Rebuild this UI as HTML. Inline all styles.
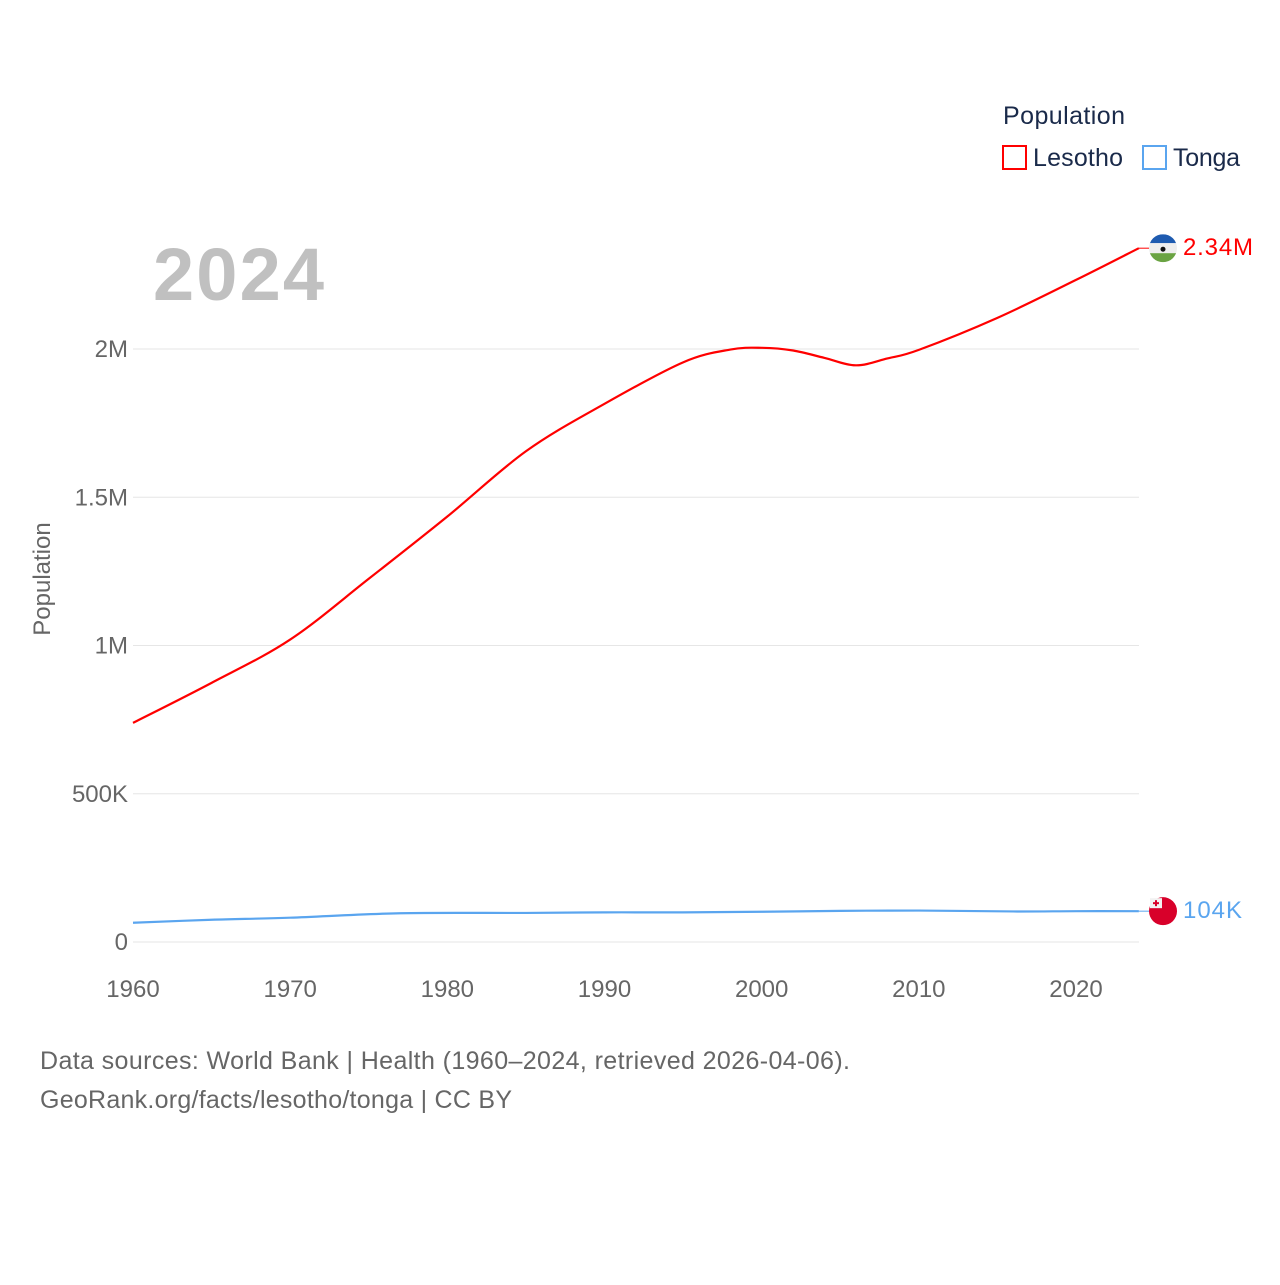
<!DOCTYPE html>
<html><head><meta charset="utf-8"><style>
body{margin:0;background:#fff;font-family:"Liberation Sans",sans-serif}
svg text{font-family:"Liberation Sans",sans-serif}
</style></head><body>
<svg id="chart" width="1280" height="1280" viewBox="0 0 1280 1280" xmlns="http://www.w3.org/2000/svg">
<text x="1003" y="124" font-size="25" fill="#1a2a4a" textLength="122">Population</text>
<g><rect x="1003" y="146" width="23" height="23" fill="none" stroke="#ff0000" stroke-width="2"/><text x="1033" y="166" font-size="25" fill="#1a2a4a" textLength="90">Lesotho</text></g>
<g><rect x="1143" y="146" width="23" height="23" fill="none" stroke="#5aa5ef" stroke-width="2"/><text x="1173" y="166" font-size="25" fill="#1a2a4a" textLength="67">Tonga</text></g>
<text x="153" y="300" font-size="74" font-weight="bold" fill="#c0c0c0" textLength="171">2024</text>
<text transform="translate(50,579) rotate(-90)" text-anchor="middle" font-size="24" fill="#666">Population</text>
<g id="grid"></g><g id="series"></g>
<text x="40" y="1069" font-size="25" fill="#666" textLength="810">Data sources: World Bank | Health (1960–2024, retrieved 2026-04-06).</text>
<text x="40" y="1108" font-size="25" fill="#666" textLength="472">GeoRank.org/facts/lesotho/tonga | CC BY</text>
</svg>
<script>
const years=[1960,1965,1970,1975,1980,1985,1990,1995,1998,2000,2002,2004,2006,2008,2010,2015,2020,2024];
const lesotho=[0.739,0.874,1.02,1.225,1.435,1.655,1.815,1.955,1.998,2.004,1.995,1.97,1.945,1.968,1.997,2.105,2.233,2.34];
const tongaYears=[1960,1965,1970,1977,1985,1990,1995,2000,2005,2010,2016,2020,2024];
const tonga=[0.065,0.075,0.082,0.097,0.098,0.1,0.1,0.102,0.105,0.106,0.103,0.104,0.104];
const yTicks=[0,0.5,1,1.5,2];const yTickLabels=["0","500K","1M","1.5M","2M"];
const xTicks=[1960,1970,1980,1990,2000,2010,2020];
const NS="http://www.w3.org/2000/svg";
const xs=y=>133+(y-1960)*(1076-133)/60;
const ys=v=>942-v*296.5;
function mk(t,a,p){const e=document.createElementNS(NS,t);for(const k in a)e.setAttribute(k,a[k]);p.appendChild(e);return e;}
const grid=document.getElementById('grid'),ser=document.getElementById('series');
yTicks.forEach((v,i)=>{const l=mk('line',{x1:133,x2:1139,y1:ys(v),y2:ys(v),stroke:'#e6e6e6','stroke-width':1},grid);


const t=mk('text',{x:128,y:ys(v)+8,'text-anchor':'end','font-size':24,fill:'#666'},grid);t.textContent=yTickLabels[i];

});
xTicks.forEach(y=>{const t=mk('text',{x:xs(y),y:997,'text-anchor':'middle','font-size':24,fill:'#666'},grid);t.textContent=y;

});
function path(xv,yv){const p=xv.map((x,i)=>[xs(x),ys(yv[i])]);let d='M'+p[0];
for(let i=0;i<p.length-1;i++){const p0=p[i-1]||p[i],p1=p[i],p2=p[i+1],p3=p[i+2]||p2;const k=1/6;
d+=' C'+(p1[0]+(p2[0]-p0[0])*k)+','+(p1[1]+(p2[1]-p0[1])*k)+' '+(p2[0]-(p3[0]-p1[0])*k)+','+(p2[1]-(p3[1]-p1[1])*k)+' '+p2;}return d;}
const lp=mk('path',{d:path(years,lesotho),fill:'none',stroke:'#ff0000','stroke-width':2.2},ser);


const tp=mk('path',{d:path(tongaYears,tonga),fill:'none',stroke:'#5aa5ef','stroke-width':2.2},ser);


const lx=xs(2024),ly=ys(lesotho[lesotho.length-1]),ty=ys(tonga[tonga.length-1]);
mk('line',{x1:lx,x2:1150,y1:ly,y2:ly,stroke:'#ff0000'},ser);
mk('line',{x1:lx,x2:1150,y1:ty,y2:ty,stroke:'#5aa5ef'},ser);
const fl=mk('g',{},ser);
const cy1=ly;
mk('clipPath',{id:'c1'},fl).appendChild(document.createElementNS(NS,'circle'));
fl.querySelector('circle').setAttribute('cx',1163);fl.querySelector('circle').setAttribute('cy',cy1);fl.querySelector('circle').setAttribute('r',14);
const g1=mk('g',{'clip-path':'url(#c1)'},fl);
mk('rect',{x:1149,y:cy1-14,width:28,height:9,fill:'#1e5bb0'},g1);
mk('rect',{x:1149,y:cy1-5,width:28,height:10,fill:'#eeeeee'},g1);
mk('rect',{x:1149,y:cy1+5,width:28,height:9,fill:'#6aa342'},g1);
mk('circle',{cx:1163,cy:cy1+1,r:2.5,fill:'#111'},g1);
const tl=mk('text',{x:1183,y:ly+7,'font-size':24,fill:'#ff0000',textLength:70},ser);tl.textContent=(lesotho[lesotho.length-1]).toFixed(2)+'M';


const ft=mk('g',{},ser);
mk('circle',{cx:1163,cy:ty,r:14,fill:'#d8002a'},ft);
mk('rect',{x:1150,y:ty-13,width:12,height:10,fill:'#f2f2f2'},ft);
mk('rect',{x:1155,y:ty-11,width:2,height:6,fill:'#d8002a'},ft);
mk('rect',{x:1153,y:ty-9,width:6,height:2,fill:'#d8002a'},ft);
const t2=mk('text',{x:1183,y:ty+7,'font-size':24,fill:'#5aa5ef',textLength:59},ser);t2.textContent=Math.round(tonga[tonga.length-1]*1000)+'K';


</script>
</body></html>
